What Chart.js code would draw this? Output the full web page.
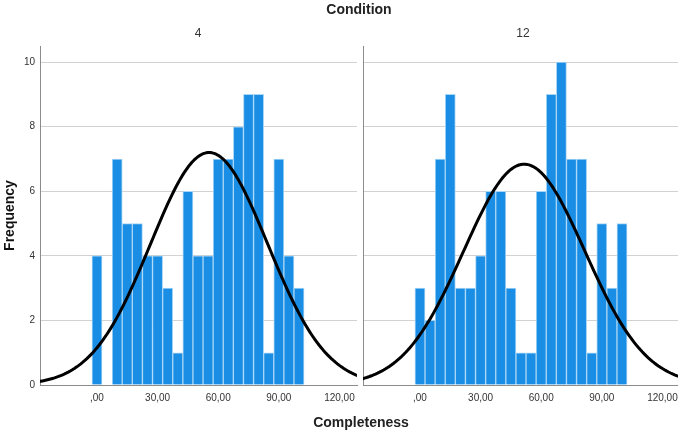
<!DOCTYPE html>
<html>
<head>
<meta charset="utf-8">
<script src="https://cdn.jsdelivr.net/npm/chart.js@4.4.1/dist/chart.umd.min.js"></script>
<style>
    html, body { margin: 0; padding: 0; background: #fff; overflow: hidden; }
    #wrap { position: relative; width: 678px; height: 430px; overflow: hidden; font-family: "Liberation Sans", Arial, sans-serif; color: #222; }
    #wrap canvas { position: absolute; top: 0; }
    .lbl { position: absolute; text-align: center; white-space: nowrap; }
    .bold { font-weight: bold; font-size: 14px; line-height: 16px; }
    .panel { font-size: 12px; line-height: 14px; color: #333; }
</style>
</head>
<body>
<div id="wrap">
    <canvas id="panel4" width="360" height="430" style="left:0px"></canvas>
    <canvas id="panel12" width="320" height="430" style="left:360px"></canvas>
    <div class="lbl bold" style="left:259px; width:200px; top:1px">Condition</div>
    <div class="lbl panel" style="left:148px; width:100px; top:26px">4</div>
    <div class="lbl panel" style="left:473px; width:100px; top:26px">12</div>
    <div class="lbl bold" style="left:261px; width:200px; top:414px">Completeness</div>
</div>
<script>
// histogram bins (width 5) and frequencies per condition
const binCenters = [0, 5, 10, 15, 20, 25, 30, 35, 40, 45, 50, 55, 60, 65, 70, 75, 80, 85, 90, 95, 100];
const counts4 = [4, 0, 7, 5, 5, 4, 4, 3, 1, 6, 4, 4, 7, 7, 8, 9, 9, 1, 7, 4, 3];
const counts12 = [3, 2, 7, 9, 3, 3, 4, 6, 6, 3, 1, 1, 6, 9, 10, 7, 7, 1, 5, 3, 5];

// normal curve overlay: [peak, mean, sd]
const normal4 = [7.2, 55.5, 29];
const normal12 = [6.84, 51.6, 30];

const xTickValues = [0, 30, 60, 90, 120];
const xTickLabels = [',00', '30,00', '60,00', '90,00', '120,00'];
const yTickValues = [0, 2, 4, 6, 8, 10];

const xMin = -28.2;
const xMax = 128.7;
const yMax = 10.5;

const tickFont = { family: 'Liberation Sans, Arial, sans-serif', size: 10 };

function curvePoints(params) {
    var peak = params[0], mean = params[1], sd = params[2];
    var pts = [];
    for (var x = Math.floor(xMin); x <= Math.ceil(xMax); x += 1) {
        pts.push({ x: x, y: peak * Math.exp(-((x - mean) * (x - mean)) / (2 * sd * sd)) });
    }
    return pts;
}

function makePanel(canvasId, counts, normal, showYAxis) {
    var ctx = document.getElementById(canvasId);

    const datasetBars = {
        type: 'bar',
        data: binCenters.map((c, i) => ({ x: c, y: counts[i] === 0 ? null : counts[i] })),
        backgroundColor: '#1a8ee5',
        borderColor: '#a9d6f6',
        borderWidth: 1,
        borderSkipped: 'bottom',
        barPercentage: 1,
        categoryPercentage: 1,
        order: 1
    }

    const datasetCurve = {
        type: 'line',
        data: curvePoints(normal),
        borderColor: '#000',
        borderWidth: 3,
        borderJoinStyle: 'round',
        borderCapStyle: 'round',
        pointRadius: 0,
        fill: false,
        tension: 0,
        order: 0
    }

    new Chart(ctx, {
        type: 'bar',
        data: {
            datasets: [datasetBars, datasetCurve]
        },
        options: {
            responsive: false,
            devicePixelRatio: 1,
            animation: false,
            layout: {
                padding: { top: 46, right: showYAxis ? 3 : 0, bottom: 0, left: 0 }
            },
            plugins: {
                legend: { display: false },
                tooltip: { enabled: false }
            },
            scales: {
                x: {
                    type: 'linear',
                    min: xMin,
                    max: xMax,
                    offset: false,
                    afterFit: (scale) => {
                        scale.height = 45
                        // tick labels sit well inside the range, no extra side padding
                        scale.paddingLeft = 0
                        scale.paddingRight = 0
                    },
                    afterBuildTicks: (scale) => {
                        scale.ticks = xTickValues.map(v => ({ value: v }))
                    },
                    grid: { display: false, drawTicks: false, offset: false },
                    border: { display: true, color: '#8c8c8c', width: 1 },
                    ticks: {
                        padding: 7,
                        color: '#333',
                        font: tickFont,
                        maxRotation: 0,
                        autoSkip: false,
                        callback: (v) => xTickLabels[xTickValues.indexOf(v)]
                    }
                },
                y: {
                    min: 0,
                    max: yMax,
                    afterFit: (scale) => { scale.width = showYAxis ? 40 : 3 },
                    afterBuildTicks: (scale) => {
                        scale.ticks = yTickValues.map(v => ({ value: v }))
                    },
                    grid: { color: '#d2d2d2', lineWidth: 1, drawTicks: false },
                    border: { display: true, color: '#8c8c8c', width: 1 },
                    ticks: {
                        display: showYAxis,
                        padding: 5,
                        color: '#333',
                        font: tickFont
                    },
                    title: {
                        display: showYAxis,
                        text: 'Frequency',
                        color: '#111',
                        padding: { top: 2, bottom: 0 },
                        font: { family: 'Liberation Sans, Arial, sans-serif', size: 14, weight: 'bold' }
                    }
                }
            }
        }
    })
}

makePanel('panel4', counts4, normal4, true);
makePanel('panel12', counts12, normal12, false);
</script>
</body>
</html>
